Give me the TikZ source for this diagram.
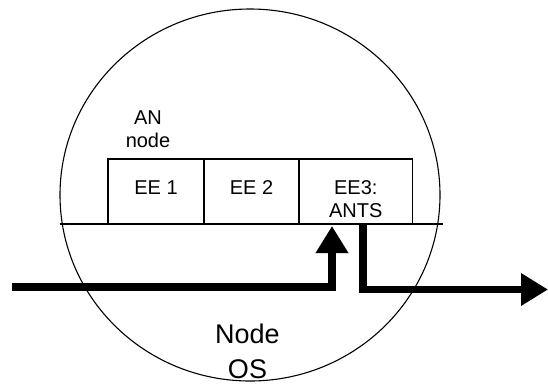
\documentclass[tikz,border=0pt]{standalone}
\usepackage{fontspec}
\setmainfont{Liberation Sans}
\usetikzlibrary{arrows.meta,positioning,shapes.geometric}
\tikzset{
  eebox/.style={rectangle,draw=black,line width=1.2pt,outer sep=0pt,inner sep=0pt,
                align=center,font=\fontsize{20}{23.4}\selectfont,
                text height=35pt,text depth=30pt},
  osnode/.style={ellipse,draw=black,line width=1.1pt,inner sep=0pt,
                 minimum width=380pt,minimum height=372pt},
  smalltxt/.style={inner sep=0pt,align=center,font=\fontsize{20}{23.4}\selectfont},
  bigtxt/.style={inner sep=0pt,align=center,font=\fontsize{27}{35}\selectfont},
  thinline/.style={line width=1.1pt},
  flowarr/.style={-{Triangle[length=27pt,width=31pt]},line width=7.5pt}
}
\begin{document}
\begin{tikzpicture}[x=1pt,y=-1pt]

  \useasboundingbox (0,0) rectangle (548,384);

  \node[osnode] (os) at (250,195) {};

  \node[eebox,minimum width=96pt,anchor=north west] (ee1) at (108,159) {EE 1};
  \node[eebox,minimum width=95pt,right=0pt of ee1] (ee2) {EE 2};
  % two lines: baseline is the last one
  \node[eebox,minimum width=113.5pt,text height=58.4pt,text depth=6.6pt,
        right=0pt of ee2] (ee3) {EE3:\\ANTS};

  \node[smalltxt,above=10.7pt of ee1,xshift=-8pt] (an) {AN\\node};
  \node[bigtxt,above=3pt of os.south,xshift=-2.5pt] (oslbl) {Node\\OS};

  \coordinate (chordw) at (59.5,224);
  \coordinate (chorde) at (443,224);
  \draw[thinline] (chordw) -- (chorde);

  \coordinate (inflow) at (12,287);
  \coordinate (outflow) at (548,289.5);
  \draw[flowarr] (inflow) -| ([xshift=33pt,yshift=-2pt]ee3.south west);
  \draw[flowarr] ([xshift=64pt]ee3.south west) |- (outflow);

\end{tikzpicture}
\end{document}
